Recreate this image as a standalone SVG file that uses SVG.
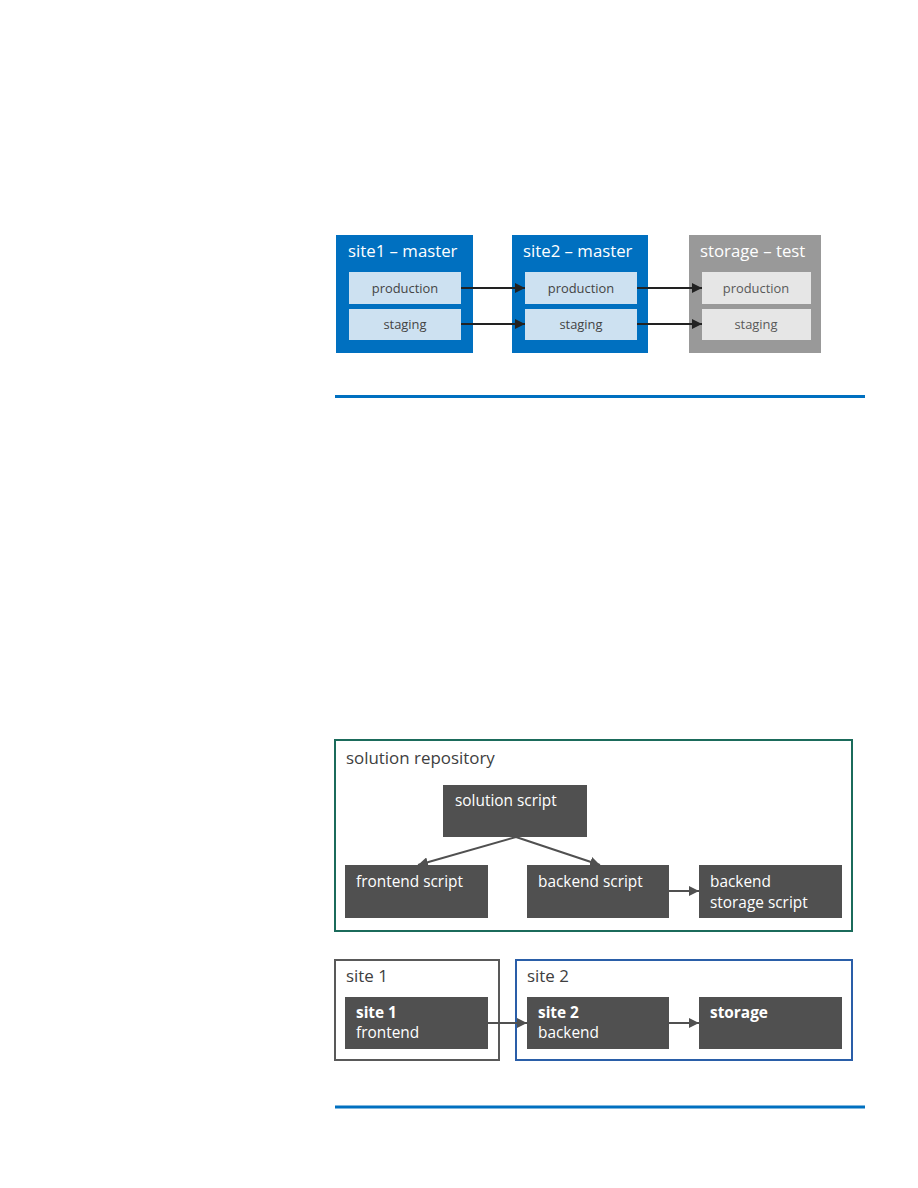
<svg xmlns="http://www.w3.org/2000/svg" width="918" height="1188" viewBox="0 0 918 1188">
<defs>
<style>
text{font-family:"Open Sans","Noto Sans","Liberation Sans",sans-serif}
.title{font-size:16.8px;fill:#fff}
.sub{font-size:12.9px;fill:#444;text-anchor:middle}
.subg{font-size:12.9px;fill:#595959;text-anchor:middle}
.dark{fill:#505050}
.wt{font-size:15.4px;fill:#fff}
.wb{font-size:15.4px;fill:#fff;font-weight:bold}
.lbl{font-size:16.9px;fill:#404040}
.conn{stroke:#222;stroke-width:2;fill:none}
.conn2{stroke:#505050;stroke-width:2;fill:none}
</style>
<marker id="ah" viewBox="0 0 10 10" refX="10" refY="5" markerWidth="5" markerHeight="5" orient="auto" markerUnits="strokeWidth"><path d="M0,0 L10,5 L0,10 z" fill="#222"/></marker>
<marker id="ah2" viewBox="0 0 10 10" refX="10" refY="5" markerWidth="5" markerHeight="5" orient="auto" markerUnits="strokeWidth"><path d="M0,0 L10,5 L0,10 z" fill="#505050"/></marker>
</defs>
<rect width="918" height="1188" fill="#fff"/>

<g id="site1-master">
<rect x="336" y="235" width="137" height="118" fill="#0070c0"/>
<text class="title" x="348" y="257">site1 – master</text>
<rect x="349" y="272" width="112" height="32" fill="#cde1f1"/>
<text class="sub" x="405" y="293">production</text>
<rect x="349" y="309" width="112" height="31" fill="#cde1f1"/>
<text class="sub" x="405" y="329">staging</text>
</g>
<g id="site2-master">
<rect x="512" y="235" width="136" height="118" fill="#0070c0"/>
<text class="title" x="523" y="257">site2 – master</text>
<rect x="525" y="272" width="112" height="32" fill="#cde1f1"/>
<text class="sub" x="581" y="293">production</text>
<rect x="525" y="309" width="112" height="31" fill="#cde1f1"/>
<text class="sub" x="581" y="329">staging</text>
</g>
<g id="storage-test">
<rect x="689" y="235" width="132" height="118" fill="#999"/>
<text class="title" x="700" y="257">storage – test</text>
<rect x="702" y="272" width="109" height="32" fill="#e6e6e6"/>
<text class="subg" x="756" y="293">production</text>
<rect x="702" y="309" width="109" height="31" fill="#e6e6e6"/>
<text class="subg" x="756" y="329">staging</text>
</g>

<line x1="335" y1="396.5" x2="865" y2="396.5" stroke="#0070c0" stroke-width="3"/>

<g id="solution-repository">
<rect x="335" y="740" width="517" height="191" fill="none" stroke="#1b6b5b" stroke-width="2"/>
<text class="lbl" x="346" y="764">solution repository</text>
</g>
<g id="solution-script">
<rect x="443" y="785" width="144" height="52" class="dark"/>
<text class="wt" x="455" y="806">solution script</text>
</g>
<g id="frontend-script">
<rect x="345" y="865" width="143" height="53" class="dark"/>
<text class="wt" x="356" y="887">frontend script</text>
</g>
<g id="backend-script">
<rect x="527" y="865" width="142" height="53" class="dark"/>
<text class="wt" x="538" y="887">backend script</text>
</g>
<g id="backend-storage-script">
<rect x="699" y="865" width="143" height="53" class="dark"/>
<text class="wt" x="710" y="887">backend</text>
<text class="wt" x="710" y="908">storage script</text>
</g>

<g id="site1-container">
<rect x="335" y="960" width="164" height="100" fill="none" stroke="#595959" stroke-width="2"/>
<text class="lbl" x="346" y="982">site 1</text>
</g>
<g id="site2-container">
<rect x="516" y="960" width="336" height="100" fill="none" stroke="#2a5ea8" stroke-width="2"/>
<text class="lbl" x="527" y="982">site 2</text>
</g>
<g id="site1-frontend">
<rect x="345" y="997" width="143" height="52" class="dark"/>
<text class="wb" x="356" y="1018">site 1</text>
<text class="wt" x="356" y="1038">frontend</text>
</g>
<g id="site2-backend">
<rect x="527" y="997" width="142" height="52" class="dark"/>
<text class="wb" x="538" y="1018">site 2</text>
<text class="wt" x="538" y="1038">backend</text>
</g>
<g id="storage">
<rect x="699" y="997" width="143" height="52" class="dark"/>
<text class="wb" x="710" y="1018">storage</text>
</g>

<line x1="335" y1="1107" x2="865" y2="1107" stroke="#0070c0" stroke-width="3"/>

<g id="connectors">
<line class="conn" x1="461" y1="288" x2="525" y2="288" marker-end="url(#ah)"/>
<line class="conn" x1="461" y1="324" x2="525" y2="324" marker-end="url(#ah)"/>
<line class="conn" x1="637" y1="288" x2="702" y2="288" marker-end="url(#ah)"/>
<line class="conn" x1="637" y1="324" x2="702" y2="324" marker-end="url(#ah)"/>
<line class="conn2" x1="516" y1="837" x2="418" y2="865" marker-end="url(#ah2)"/>
<line class="conn2" x1="516" y1="837" x2="600" y2="865" marker-end="url(#ah2)"/>
<line class="conn2" x1="669" y1="891" x2="699" y2="891" marker-end="url(#ah2)"/>
<line class="conn2" x1="488" y1="1023" x2="527" y2="1023" marker-end="url(#ah2)"/>
<line class="conn2" x1="669" y1="1023" x2="699" y2="1023" marker-end="url(#ah2)"/>
</g>
</svg>
